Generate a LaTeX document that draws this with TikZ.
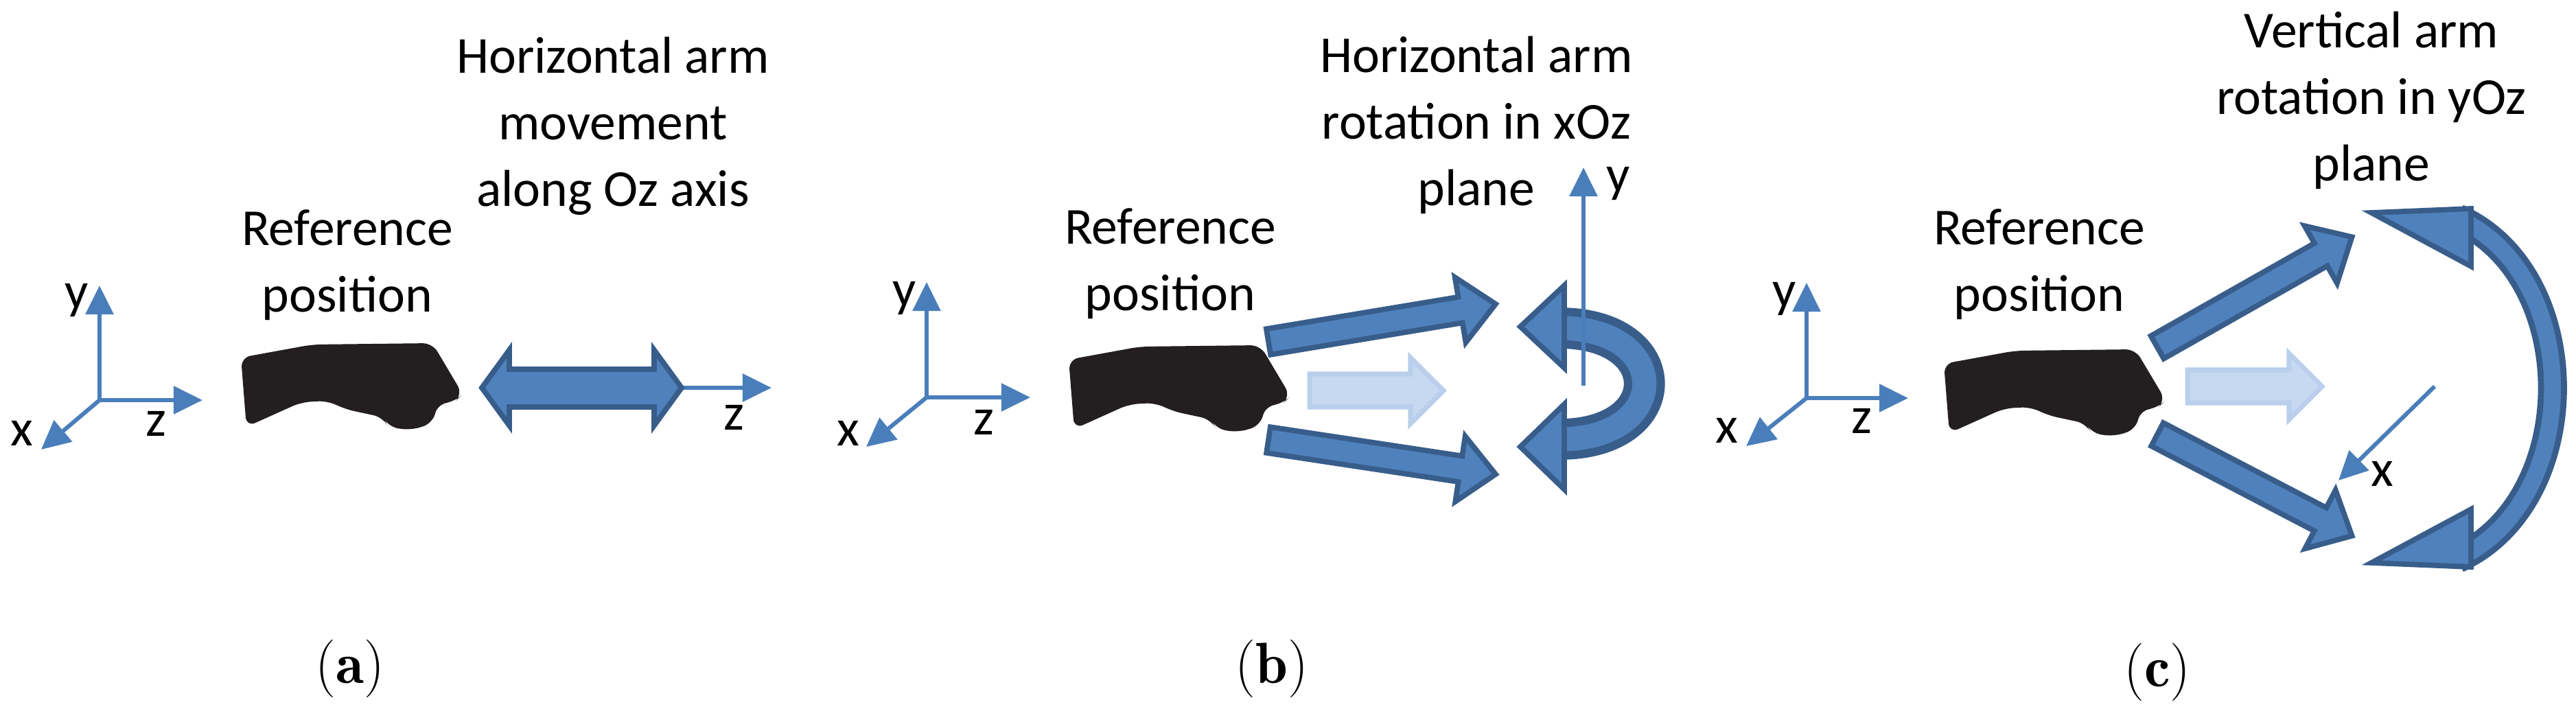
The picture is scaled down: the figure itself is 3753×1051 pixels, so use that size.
\documentclass[tikz,border=0pt]{standalone}
\usepackage{fontspec}
\setmainfont{Carlito}
\usetikzlibrary{arrows.meta,calc}
\definecolor{ax}{HTML}{4A7EBB}
\definecolor{bfill}{HTML}{4F81BD}
\definecolor{bdark}{HTML}{385D8A}
\definecolor{lfill}{HTML}{C6D9F1}
\definecolor{ldark}{HTML}{B9CFEB}
\definecolor{fist}{HTML}{231F20}
\tikzset{
  axis/.style={draw=ax,line width=1.7pt,-{Triangle[length=0.42cm,width=0.40cm]}},
  lbl/.style={font=\fontsize{21.5}{27.6}\selectfont,inner sep=0pt},
  ttl/.style={font=\fontsize{21.5}{27.6}\selectfont,align=center,inner sep=0pt},
  sublbl/.style={font=\fontfamily{lmr}\fontsize{24}{28}\selectfont,inner sep=0pt},
  blk/.style={fill=bfill,draw=bdark,line width=2.2pt,line join=miter},
  lblk/.style={fill=lfill,draw=ldark,line width=2pt},
  fst/.style={fill=fist,rounded corners=4pt}
}
% #1 start, #2 end, #3 shaft half width, #4 head half width, #5 head length, #6 style
\newcommand\blockarr[6]{%
  \path[#6] let \p1=(#1), \p2=(#2), \n1={atan2(\y2-\y1,\x2-\x1)}, \n2={veclen(\x2-\x1,\y2-\y1)} in
    [shift={(\p1)},rotate=\n1]
    (0pt,#3) -- ({\n2-#5},#3) -- ({\n2-#5},#4) -- (\n2,0pt) -- ({\n2-#5},-#4) -- ({\n2-#5},-#3) -- (0pt,-#3) -- cycle;}
\newcommand\fistshape[2]{%
  \path[fst,shift={(#1,#2)}] (0,0) -- (104,-19) -- (279,-21) -- (323,53) -- (311,65) -- (287,67) -- (279,96) -- (247,106) -- (215,101) -- (207,87) -- (151,75) -- (127,63) -- (88,65) -- (8,101) -- cycle;}
\begin{document}
\begin{tikzpicture}[x=0.01cm,y=-0.01cm]
\path[use as bounding box,fill=white] (0,0) rectangle (3753,1051);

% ---------- panel a ----------
\coordinate (ao) at (145,583);
\coordinate (ay) at (145,416);
\coordinate (az) at (295,583);
\coordinate (ax) at (60,655);
\draw[axis] (ao) -- (ay);
\draw[axis] (ao) -- (az);
\draw[axis] (ao) -- (ax);
\node[lbl] (aly) at (112,438) {y};
\node[lbl] (alz) at (227,617) {z};
\node[lbl] (alx) at (32,631) {x};
\fistshape{351}{521}
\node[ttl] (aref) at (506,386) {Reference\\position};
\node[ttl] (attl) at (893,184) {Horizontal arm\\movement\\along Oz axis};
\coordinate (dz0) at (993,565);
\coordinate (dz1) at (1124,565);
\draw[axis] (dz0) -- (dz1);
\path[blk] (702,565) -- (742,510) -- (742,538) -- (953,538) -- (953,510) -- (993,565) -- (953,620) -- (953,593) -- (742,593) -- (742,620) -- cycle;
\node[lbl] (alz2) at (1069,608) {z};
\node[sublbl] (capa) at (510,974) {(\textbf{a})};

% ---------- panel b ----------
\coordinate (bo) at (1350,579);
\coordinate (by) at (1350,411);
\coordinate (bz) at (1501,579);
\coordinate (bx) at (1262,651);
\draw[axis] (bo) -- (by);
\draw[axis] (bo) -- (bz);
\draw[axis] (bo) -- (bx);
\node[lbl] (bly) at (1318,435) {y};
\node[lbl] (blz) at (1433,615) {z};
\node[lbl] (blx) at (1236,631) {x};
\fistshape{1557}{524}
\node[ttl] (bref) at (1705,384) {Reference\\position};
\node[ttl] (bttl) at (2151,182) {Horizontal arm\\rotation in xOz\\plane};
\coordinate (bu0) at (1848,498); \coordinate (bu1) at (2179,443);
\coordinate (bd0) at (1848,641); \coordinate (bd1) at (2179,691);
\coordinate (bl0) at (1908,569); \coordinate (bl1) at (2103,569);
\blockarr{bu0}{bu1}{0.19cm}{0.48cm}{0.52cm}{blk}
\blockarr{bd0}{bd1}{0.19cm}{0.48cm}{0.52cm}{blk}
\blockarr{bl0}{bl1}{0.24cm}{0.48cm}{0.48cm}{lblk}
% ring
\draw[bdark,line width=17pt] (2272,478) .. controls (2437,478) and (2437,640) .. (2272,640);
\draw[bfill,line width=10pt] (2272,478) .. controls (2437,478) and (2437,640) .. (2272,640);
\path[blk] (2215,476) -- (2279,416) -- (2279,536) -- cycle;
\path[blk] (2215,651) -- (2279,589) -- (2279,713) -- cycle;
\coordinate (byb) at (2307,562); \coordinate (byt) at (2307,244);
\draw[axis] (byb) -- (byt);
\node[lbl] (bly2) at (2358,268) {y};
\node[sublbl] (capb) at (1853,974) {(\textbf{b})};

% ---------- panel c ----------
\coordinate (co) at (2632,580);
\coordinate (cy) at (2632,412);
\coordinate (cz) at (2780,580);
\coordinate (cx) at (2544,650);
\draw[axis] (co) -- (cy);
\draw[axis] (co) -- (cz);
\draw[axis] (co) -- (cx);
\node[lbl] (cly) at (2600,436) {y};
\node[lbl] (clz) at (2712,613) {z};
\node[lbl] (clx) at (2516,627) {x};
\fistshape{2832}{530}
\node[ttl] (cref) at (2971,385) {Reference\\position};
\node[ttl] (cttl) at (3455,146) {Vertical arm\\rotation in yOz\\plane};
\coordinate (cu0) at (3143,506); \coordinate (cu1) at (3427,345);
\coordinate (cd0) at (3143,633); \coordinate (cd1) at (3427,781);
\coordinate (cl0) at (3187,563); \coordinate (cl1) at (3383,563);
\blockarr{cu0}{cu1}{0.19cm}{0.48cm}{0.52cm}{blk}
\blockarr{cd0}{cd1}{0.19cm}{0.48cm}{0.52cm}{blk}
\blockarr{cl0}{cl1}{0.24cm}{0.48cm}{0.48cm}{lblk}
\coordinate (cxa) at (3547,563); \coordinate (cxb) at (3407,700);
\draw[axis] (cxa) -- (cxb);
\node[lbl] (clx2) at (3471,690) {x};
% arc
\draw[bdark,line width=12pt] (3580,318) .. controls (3765,400) and (3765,730) .. (3580,814);
\draw[bfill,line width=7pt] (3580,318) .. controls (3765,400) and (3765,730) .. (3580,814);
\path[blk] (3455,310) -- (3600,304) -- (3600,388) -- cycle;
\path[blk] (3455,820) -- (3600,826) -- (3600,742) -- cycle;
\node[sublbl] (capc) at (3143,979) {(\textbf{c})};
\end{tikzpicture}
\end{document}
